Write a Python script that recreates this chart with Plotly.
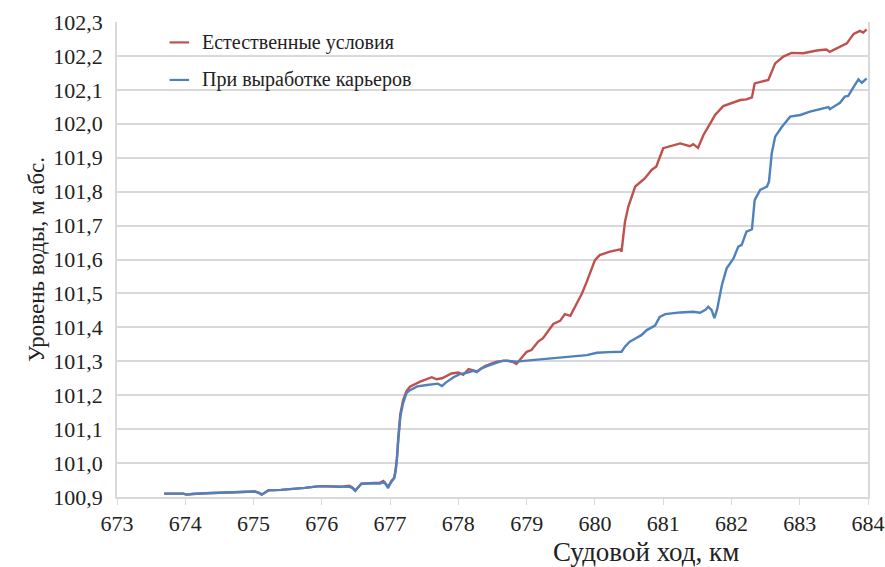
import plotly.graph_objects as go

# Судовой ход, км — режим "при выработке карьеров"
km_quarry = [
    673.69, 673.85, 673.97, 674.02, 674.10, 674.30, 674.50, 674.70, 674.85, 675.02,
    675.08, 675.12, 675.18, 675.22, 675.40, 675.55, 675.75, 675.97, 676.10, 676.27,
    676.41, 676.45, 676.49, 676.53, 676.58, 676.70, 676.85, 676.92, 676.97, 677.02,
    677.06, 677.08, 677.10, 677.12, 677.15, 677.19, 677.24, 677.29, 677.40, 677.54,
    677.70, 677.76, 677.82, 677.93, 678.02, 678.12, 678.22, 678.27, 678.33, 678.42,
    678.55, 678.65, 678.75, 678.85, 679.00, 679.20, 679.39, 679.60, 679.88, 680.03,
    680.20, 680.39, 680.44, 680.51, 680.60, 680.68, 680.76, 680.88, 680.95, 681.03,
    681.25, 681.44, 681.54, 681.62, 681.66, 681.71, 681.75, 681.79, 681.86, 681.93,
    682.03, 682.10, 682.15, 682.22, 682.30, 682.34, 682.42, 682.52, 682.55, 682.59,
    682.64, 682.74, 682.86, 683.01, 683.15, 683.30, 683.42, 683.44, 683.59, 683.66,
    683.71, 683.79, 683.86, 683.91, 683.98,
]
level_quarry = [
    100.910, 100.911, 100.910, 100.907, 100.909, 100.911, 100.913, 100.913, 100.915, 100.916,
    100.912, 100.907, 100.915, 100.920, 100.921, 100.923, 100.927, 100.932, 100.931, 100.929,
    100.930, 100.926, 100.918, 100.928, 100.939, 100.940, 100.940, 100.944, 100.927, 100.945,
    100.955, 100.975, 101.010, 101.068, 101.137, 101.176, 101.206, 101.215, 101.226, 101.230,
    101.234, 101.227, 101.238, 101.253, 101.262, 101.266, 101.272, 101.268, 101.278, 101.286,
    101.296, 101.302, 101.301, 101.299, 101.302, 101.305, 101.309, 101.313, 101.318, 101.325,
    101.327, 101.328, 101.343, 101.358, 101.368, 101.377, 101.392, 101.405, 101.431, 101.439,
    101.444, 101.446, 101.443, 101.452, 101.461, 101.451, 101.427, 101.453, 101.525, 101.574,
    101.603, 101.638, 101.643, 101.682, 101.689, 101.775, 101.805, 101.815, 101.830, 101.913,
    101.962, 101.991, 102.021, 102.026, 102.036, 102.043, 102.049, 102.043, 102.062, 102.080,
    102.082, 102.109, 102.131, 102.121, 102.134,
]

# Судовой ход, км — естественные условия
km_natural = [
    673.69, 673.85, 673.97, 674.02, 674.10, 674.30, 674.50, 674.70, 674.85, 675.02,
    675.08, 675.12, 675.18, 675.22, 675.40, 675.55, 675.75, 675.97, 676.10, 676.27,
    676.40, 676.45, 676.49, 676.53, 676.58, 676.70, 676.85, 676.90, 676.97, 677.02,
    677.06, 677.08, 677.10, 677.12, 677.15, 677.19, 677.24, 677.29, 677.44, 677.61,
    677.68, 677.76, 677.90, 678.00, 678.07, 678.15, 678.27, 678.39, 678.56, 678.71,
    678.80, 678.85, 678.93, 679.00, 679.07, 679.17, 679.24, 679.32, 679.39, 679.49,
    679.56, 679.64, 679.71, 679.81, 679.88, 680.00, 680.07, 680.22, 680.37, 680.39,
    680.44, 680.49, 680.59, 680.66, 680.73, 680.83, 680.90, 681.00, 681.15, 681.25,
    681.39, 681.44, 681.51, 681.59, 681.69, 681.76, 681.88, 682.08, 682.13, 682.22,
    682.30, 682.34, 682.47, 682.54, 682.64, 682.76, 682.88, 683.05, 683.25, 683.39,
    683.44, 683.57, 683.69, 683.79, 683.88, 683.93, 683.98,
]
level_natural = [
    100.910, 100.911, 100.910, 100.907, 100.909, 100.911, 100.913, 100.913, 100.915, 100.916,
    100.912, 100.907, 100.915, 100.920, 100.921, 100.923, 100.927, 100.932, 100.931, 100.930,
    100.933, 100.928, 100.919, 100.929, 100.939, 100.941, 100.942, 100.947, 100.930, 100.947,
    100.957, 100.978, 101.015, 101.075, 101.145, 101.185, 101.212, 101.225, 101.240, 101.253,
    101.247, 101.250, 101.264, 101.267, 101.260, 101.277, 101.270, 101.286, 101.299, 101.302,
    101.298, 101.292, 101.313, 101.328, 101.333, 101.358, 101.368, 101.392, 101.410, 101.419,
    101.439, 101.434, 101.461, 101.500, 101.534, 101.598, 101.613, 101.623, 101.630, 101.623,
    101.711, 101.756, 101.815, 101.827, 101.839, 101.864, 101.874, 101.928, 101.937, 101.942,
    101.934, 101.940, 101.929, 101.967, 102.001, 102.026, 102.052, 102.065, 102.070, 102.072,
    102.078, 102.119, 102.127, 102.129, 102.178, 102.198, 102.209, 102.208, 102.216, 102.219,
    102.212, 102.225, 102.237, 102.265, 102.274, 102.269, 102.278,
]

series_names = ["Естественные условия", "При выработке карьеров"]
series_colors = ["#C0504D", "#4F81BD"]

x_ticks = list(range(673, 685))
y_ticks = [round(100.9 + 0.1 * i, 1) for i in range(15)]

FONT = "Times New Roman"
GRID = "#D9D9D9"
TEXT = "#222222"

fig = go.Figure()
fig.add_trace(go.Scatter(x=km_natural, y=level_natural, mode="lines",
                         name=series_names[0], showlegend=False,
                         line=dict(color=series_colors[0], width=2.4)))
fig.add_trace(go.Scatter(x=km_quarry, y=level_quarry, mode="lines",
                         name=series_names[1], showlegend=False,
                         line=dict(color=series_colors[1], width=2.4)))

# Legend drawn inside the plot area: short colored line + label
legend_rows = [0.957, 0.878]
for name, color, ypos in zip(series_names, series_colors, legend_rows):
    fig.add_shape(type="line", xref="paper", yref="paper",
                  x0=0.070, x1=0.096, y0=ypos, y1=ypos,
                  line=dict(color=color, width=2.2))
    fig.add_annotation(xref="paper", yref="paper", x=0.110, y=ypos,
                       text=name, showarrow=False, xanchor="left", yanchor="middle",
                       font=dict(family=FONT, size=20, color=TEXT))

# X axis title, set off to the right under the axis
fig.add_annotation(xref="paper", yref="paper", x=0.704, y=-0.116,
                   text="Судовой ход, км", showarrow=False,
                   xanchor="center", yanchor="middle",
                   font=dict(family=FONT, size=27, color=TEXT))

fig.update_layout(
    template="none",
    width=885, height=567,
    margin=dict(l=117, r=17, t=22, b=70),
    paper_bgcolor="white", plot_bgcolor="white",
    separators=", ",
    font=dict(family=FONT, size=22, color=TEXT),
    xaxis=dict(
        range=[673, 684], tickvals=x_ticks,
        showgrid=False, zeroline=False,
        showline=True, linecolor=GRID, linewidth=1.5,
        ticks="outside", ticklen=6, tickcolor=GRID, tickwidth=1.2,
        tickfont=dict(family=FONT, size=22, color=TEXT),
    ),
    yaxis=dict(
        range=[100.9, 102.3], tickvals=y_ticks, tickformat=".1f",
        showgrid=True, gridcolor=GRID, gridwidth=1.5, zeroline=False,
        showline=True, linecolor=GRID, linewidth=1.5, mirror=True,
        ticks="", ticklabelstandoff=8,
        tickfont=dict(family=FONT, size=22, color=TEXT),
        title=dict(text="Уровень воды, м абс.", standoff=2,
                   font=dict(family=FONT, size=23, color=TEXT)),
    ),
)

fig.write_html("out.html")
